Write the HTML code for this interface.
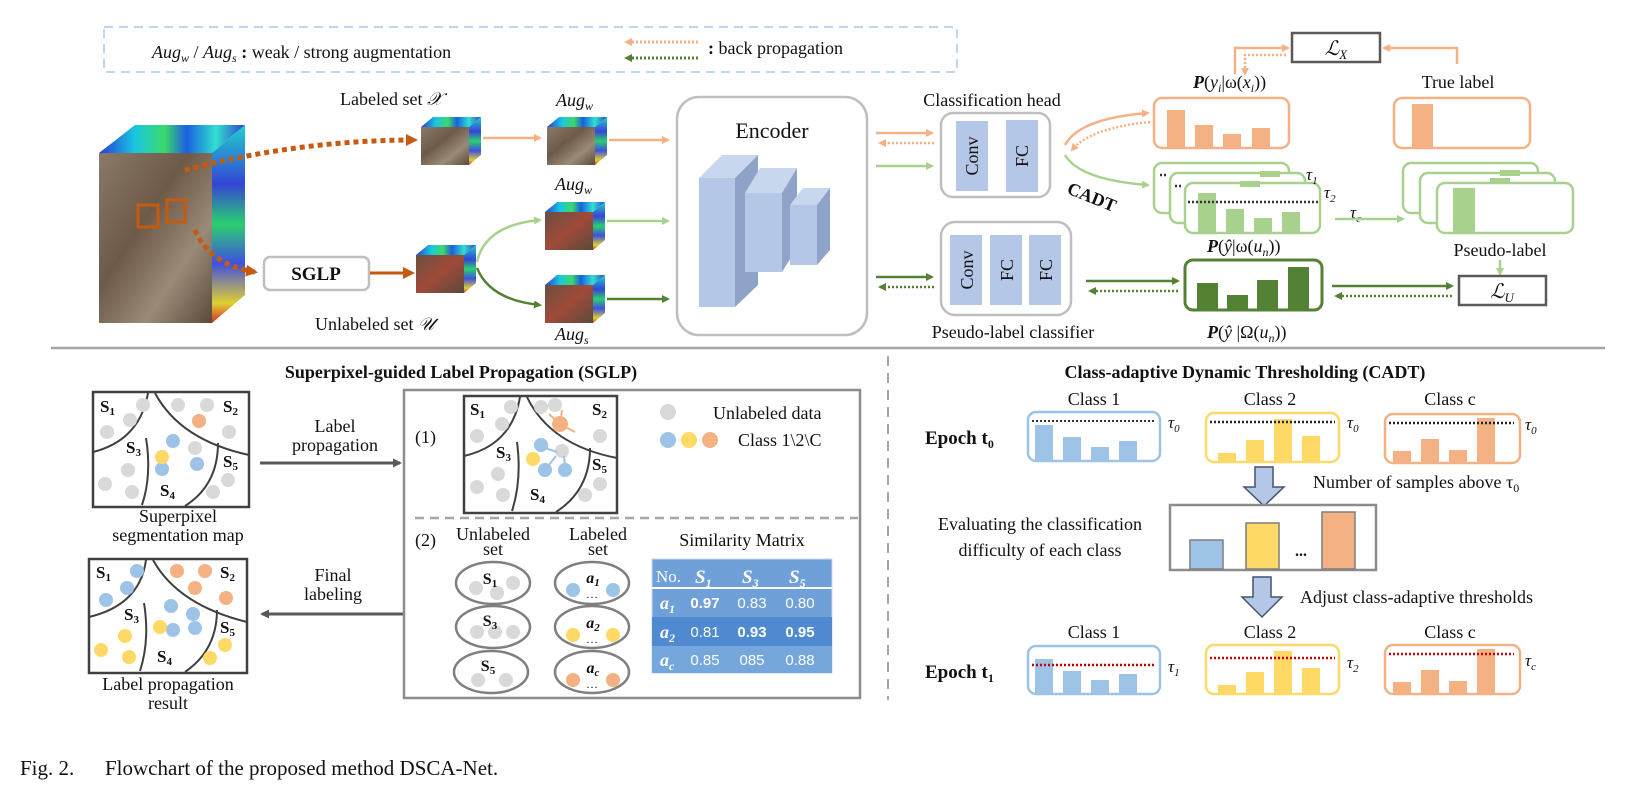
<!DOCTYPE html>
<html><head><meta charset="utf-8"><style>
html,body{margin:0;padding:0;background:#fff}
svg{display:block}
text{font-family:"Liberation Serif",serif;fill:#111}
.s{font-family:"Liberation Sans",sans-serif}
</style></head><body>
<svg width="1638" height="790" viewBox="0 0 1638 790" xmlns="http://www.w3.org/2000/svg">
<defs>
<linearGradient id="rain" x1="0" y1="0" x2="1" y2="0">
<stop offset="0" stop-color="#2a3bd8"/><stop offset="0.25" stop-color="#19c7e0"/><stop offset="0.45" stop-color="#3bd96a"/><stop offset="0.6" stop-color="#1a5fe0"/><stop offset="0.8" stop-color="#30e0d0"/><stop offset="1" stop-color="#3040d0"/></linearGradient>
<linearGradient id="rain2" x1="0" y1="0" x2="0" y2="1">
<stop offset="0" stop-color="#1fd0d0"/><stop offset="0.3" stop-color="#3545d5"/><stop offset="0.5" stop-color="#2ad070"/><stop offset="0.7" stop-color="#4050e0"/><stop offset="0.9" stop-color="#e0d030"/><stop offset="1" stop-color="#d03030"/></linearGradient>
<linearGradient id="img" x1="0" y1="0" x2="1" y2="1">
<stop offset="0" stop-color="#8a7a68"/><stop offset="0.4" stop-color="#6e5a48"/><stop offset="0.7" stop-color="#9a8a78"/><stop offset="1" stop-color="#5a4a3a"/></linearGradient>
<linearGradient id="imgr" x1="0" y1="0" x2="1" y2="1">
<stop offset="0" stop-color="#6a5040"/><stop offset="0.5" stop-color="#a04a3a"/><stop offset="1" stop-color="#5a4a3a"/></linearGradient>
<marker id="ao" markerWidth="8" markerHeight="8" refX="6" refY="4" orient="auto" markerUnits="userSpaceOnUse"><path d="M0,0 L8,4 L0,8z" fill="#f4b183"/></marker>
<marker id="ad" markerWidth="12" markerHeight="12" refX="9" refY="6" orient="auto" markerUnits="userSpaceOnUse"><path d="M0,0 L12,6 L0,12z" fill="#c55a11"/></marker>
<marker id="alg" markerWidth="8" markerHeight="8" refX="6" refY="4" orient="auto" markerUnits="userSpaceOnUse"><path d="M0,0 L8,4 L0,8z" fill="#a9d18e"/></marker>
<marker id="adg" markerWidth="8" markerHeight="8" refX="6" refY="4" orient="auto" markerUnits="userSpaceOnUse"><path d="M0,0 L8,4 L0,8z" fill="#548235"/></marker>
<marker id="ag" markerWidth="9" markerHeight="9" refX="7" refY="4.5" orient="auto" markerUnits="userSpaceOnUse"><path d="M0,0 L9,4.5 L0,9z" fill="#595959"/></marker>
<g id="cube"><polygon points="0,10 12,0 60,0 48,10" fill="url(#rain)"/><rect x="0" y="10" width="48" height="38" fill="url(#img)"/><polygon points="48,10 60,0 60,38 48,48" fill="url(#rain2)"/></g>
<g id="cuber"><polygon points="0,10 12,0 60,0 48,10" fill="url(#rain)"/><rect x="0" y="10" width="48" height="38" fill="url(#imgr)"/><polygon points="48,10 60,0 60,38 48,48" fill="url(#rain2)"/></g>
</defs>

<rect x="104" y="27" width="853" height="45" fill="none" stroke="#bdd7ee" stroke-width="2" stroke-dasharray="9,6"/>
<text x="152" y="58" font-size="18"><tspan font-style="italic">Aug</tspan><tspan font-style="italic" font-size="12" dy="4">w</tspan><tspan dy="-4"> / </tspan><tspan font-style="italic">Aug</tspan><tspan font-style="italic" font-size="12" dy="4">s</tspan><tspan dy="-4" font-weight="bold"> :</tspan><tspan> weak / strong augmentation</tspan></text>
<line x1="698" y1="42" x2="626" y2="42" stroke="#f4b183" stroke-width="3" stroke-dasharray="2,2" marker-end="url(#ao)"/>
<line x1="698" y1="58" x2="626" y2="58" stroke="#548235" stroke-width="3" stroke-dasharray="2,2" marker-end="url(#adg)"/>
<text x="708" y="54" font-size="18"><tspan font-weight="bold">:</tspan> back propagation</text>

<polygon points="99,153 135,125 245,125 212,153" fill="url(#rain)"/>
<polygon points="212,153 245,125 245,295 212,323" fill="url(#rain2)"/>
<rect x="99" y="153" width="113" height="170" fill="url(#img)"/>
<rect x="138" y="205" width="20" height="22" fill="none" stroke="#c55a11" stroke-width="3"/>
<rect x="167" y="200" width="18" height="22" fill="none" stroke="#c55a11" stroke-width="3"/>
<path d="M185,170 Q300,140 415,140" fill="none" stroke="#c55a11" stroke-width="5" stroke-dasharray="5,4" marker-end="url(#ad)"/>
<path d="M195,230 Q210,265 255,272" fill="none" stroke="#c55a11" stroke-width="5" stroke-dasharray="5,4" marker-end="url(#ad)"/>

<text x="340" y="105" font-size="18">Labeled set <tspan font-style="italic">𝒳</tspan></text>
<use href="#cube" x="421" y="117"/>
<line x1="483" y1="138" x2="540" y2="138" stroke="#f4b183" stroke-width="2.5" marker-end="url(#ao)"/>
<text x="556" y="106" font-size="18" font-style="italic">Aug<tspan font-size="12" dy="4">w</tspan></text>
<use href="#cube" x="547" y="117"/>
<line x1="609" y1="140" x2="668" y2="140" stroke="#f4b183" stroke-width="2.5" marker-end="url(#ao)"/>
<text x="555" y="190" font-size="18" font-style="italic">Aug<tspan font-size="12" dy="4">w</tspan></text>
<use href="#cuber" x="545" y="202"/>
<line x1="607" y1="221" x2="668" y2="221" stroke="#a9d18e" stroke-width="2.5" marker-end="url(#alg)"/>
<use href="#cuber" x="545" y="275"/>
<line x1="607" y1="299" x2="668" y2="299" stroke="#548235" stroke-width="2.5" marker-end="url(#adg)"/>
<text x="555" y="340" font-size="18" font-style="italic">Aug<tspan font-size="12" dy="4">s</tspan></text>

<rect x="264" y="257" width="105" height="33" rx="6" fill="#fff" stroke="#bfbfbf" stroke-width="2.5"/>
<text x="316" y="280" font-size="19" font-weight="bold" text-anchor="middle">SGLP</text>
<line x1="370" y1="273" x2="412" y2="273" stroke="#c55a11" stroke-width="3" marker-end="url(#ad)"/>
<use href="#cuber" x="416" y="245"/>
<text x="315" y="330" font-size="18">Unlabeled set <tspan font-style="italic">𝒰</tspan></text>
<path d="M477,262 Q485,225 540,220" fill="none" stroke="#a9d18e" stroke-width="2.5" marker-end="url(#alg)"/>
<path d="M477,268 Q490,300 540,305" fill="none" stroke="#548235" stroke-width="2.5" marker-end="url(#adg)"/>

<rect x="677" y="97" width="190" height="238" rx="22" fill="#fff" stroke="#bfbfbf" stroke-width="2.5"/>
<text x="772" y="138" font-size="22" text-anchor="middle">Encoder</text>
<polygon points="699,178 722,155 758,155 735,178" fill="#c8d6ee"/>
<polygon points="735,178 758,155 758,285 735,307" fill="#8fa3c8"/>
<rect x="699" y="178" width="36" height="129" fill="#b4c7e7"/>
<polygon points="745,193 760,168 797,168 782,193" fill="#c8d6ee"/>
<polygon points="782,193 797,168 797,248 782,272" fill="#8fa3c8"/>
<rect x="745" y="193" width="37" height="79" fill="#b4c7e7"/>
<polygon points="790,205 803,188 830,188 817,205" fill="#c8d6ee"/>
<polygon points="817,205 830,188 830,250 817,265" fill="#8fa3c8"/>
<rect x="790" y="205" width="27" height="60" fill="#b4c7e7"/>

<text x="992" y="106" font-size="18" text-anchor="middle">Classification head</text>
<line x1="876" y1="133" x2="932" y2="133" stroke="#f4b183" stroke-width="2.5" marker-end="url(#ao)"/>
<line x1="934" y1="143" x2="880" y2="143" stroke="#f4b183" stroke-width="2.5" stroke-dasharray="2,2" marker-end="url(#ao)"/>
<line x1="876" y1="166" x2="932" y2="166" stroke="#a9d18e" stroke-width="2.5" marker-end="url(#alg)"/>
<rect x="941" y="113" width="109" height="84" rx="12" fill="#fff" stroke="#bfbfbf" stroke-width="2.5"/>
<rect x="956" y="121" width="32" height="70" fill="#b4c7e7"/>
<rect x="1006" y="120" width="32" height="72" fill="#b4c7e7"/>
<text transform="translate(978,156) rotate(-90)" font-size="18" text-anchor="middle">Conv</text>
<text transform="translate(1028,156) rotate(-90)" font-size="18" text-anchor="middle">FC</text>

<line x1="876" y1="277" x2="932" y2="277" stroke="#548235" stroke-width="2.5" marker-end="url(#adg)"/>
<line x1="934" y1="287" x2="880" y2="287" stroke="#548235" stroke-width="2.5" stroke-dasharray="2,2" marker-end="url(#adg)"/>
<rect x="941" y="222" width="130" height="93" rx="14" fill="#fff" stroke="#bfbfbf" stroke-width="2.5"/>
<rect x="950" y="235" width="32" height="70" fill="#b4c7e7"/>
<rect x="990" y="235" width="32" height="70" fill="#b4c7e7"/>
<rect x="1029" y="235" width="32" height="70" fill="#b4c7e7"/>
<text transform="translate(973,270) rotate(-90)" font-size="18" text-anchor="middle">Conv</text>
<text transform="translate(1013,270) rotate(-90)" font-size="18" text-anchor="middle">FC</text>
<text transform="translate(1052,270) rotate(-90)" font-size="18" text-anchor="middle">FC</text>
<text x="1013" y="338" font-size="18" text-anchor="middle">Pseudo-label classifier</text>
<line x1="1086" y1="281" x2="1178" y2="281" stroke="#548235" stroke-width="2.5" marker-end="url(#adg)"/>
<line x1="1178" y1="291" x2="1090" y2="291" stroke="#548235" stroke-width="2.5" stroke-dasharray="2,2" marker-end="url(#adg)"/>

<path d="M1065,145 Q1080,118 1148,113" fill="none" stroke="#f4b183" stroke-width="2.5" marker-end="url(#ao)"/>
<path d="M1150,122 Q1090,128 1072,150" fill="none" stroke="#f4b183" stroke-width="2.5" stroke-dasharray="2,2" marker-end="url(#ao)"/>
<path d="M1065,155 Q1080,180 1148,185" fill="none" stroke="#a9d18e" stroke-width="2.5" marker-end="url(#alg)"/>
<text transform="translate(1066,193) rotate(22)" font-size="18" font-weight="bold">CADT</text>

<text x="1193" y="88" font-size="18"><tspan font-weight="bold" font-style="italic">P</tspan>(<tspan font-style="italic">y</tspan><tspan font-style="italic" font-size="12" dy="4">i</tspan><tspan dy="-4">|ω(</tspan><tspan font-style="italic">x</tspan><tspan font-style="italic" font-size="12" dy="4">i</tspan><tspan dy="-4">))</tspan></text>
<rect x="1154" y="98" width="135" height="50" rx="8" fill="#fff" stroke="#f4b183" stroke-width="2.5"/>
<rect x="1167" y="110" width="18" height="37" fill="#f4b183"/>
<rect x="1195" y="125" width="18" height="22" fill="#f4b183"/>
<rect x="1223" y="134" width="18" height="13" fill="#f4b183"/>
<rect x="1252" y="128" width="18" height="19" fill="#f4b183"/>
<rect x="1292" y="33" width="88" height="29" fill="#fff" stroke="#595959" stroke-width="2.5"/>
<text x="1336" y="55" font-size="20" font-style="italic" text-anchor="middle">ℒ<tspan font-size="13" dy="4">X</tspan></text>
<path d="M1235,74 L1235,48 L1288,48" fill="none" stroke="#f4b183" stroke-width="2.5" marker-end="url(#ao)"/>
<path d="M1286,55 L1245,55 L1245,74" fill="none" stroke="#f4b183" stroke-width="2.5" stroke-dasharray="2,2" marker-end="url(#ao)"/>
<path d="M1457,64 L1457,48 L1384,48" fill="none" stroke="#f4b183" stroke-width="2.5" marker-end="url(#ao)"/>
<text x="1458" y="88" font-size="18" text-anchor="middle">True label</text>
<rect x="1394" y="98" width="136" height="50" rx="8" fill="#fff" stroke="#f4b183" stroke-width="2.5"/>
<rect x="1412" y="104" width="21" height="43" fill="#f4b183"/>

<g fill="#fff" stroke="#a9d18e" stroke-width="2.5">
<rect x="1154" y="163" width="135" height="50" rx="8"/>
<rect x="1170" y="173" width="135" height="50" rx="8"/>
<rect x="1185" y="183" width="135" height="50" rx="8"/>
</g>
<rect x="1260" y="171" width="20" height="6" fill="#a9d18e"/>
<rect x="1240" y="181" width="20" height="6" fill="#a9d18e"/>
<rect x="1198" y="193" width="18" height="39" fill="#a9d18e"/>
<rect x="1226" y="209" width="18" height="23" fill="#a9d18e"/>
<rect x="1254" y="218" width="18" height="14" fill="#a9d18e"/>
<rect x="1282" y="212" width="18" height="20" fill="#a9d18e"/>
<line x1="1160" y1="175" x2="1168" y2="175" stroke="#333" stroke-width="2.5" stroke-dasharray="2,2"/>
<line x1="1175" y1="186" x2="1183" y2="186" stroke="#333" stroke-width="2.5" stroke-dasharray="2,2"/>
<line x1="1188" y1="202" x2="1318" y2="202" stroke="#333" stroke-width="2.5" stroke-dasharray="2,2"/>
<text x="1306" y="180" font-size="17" font-style="italic">τ<tspan font-size="11" dy="4">1</tspan></text>
<text x="1324" y="198" font-size="17" font-style="italic">τ<tspan font-size="11" dy="4">2</tspan></text>
<text x="1350" y="218" font-size="17" font-style="italic">τ<tspan font-size="11" dy="4">c</tspan></text>
<line x1="1335" y1="219" x2="1403" y2="219" stroke="#a9d18e" stroke-width="2.5" marker-end="url(#alg)"/>
<text x="1207" y="252" font-size="18"><tspan font-weight="bold" font-style="italic">P</tspan>(<tspan font-style="italic">ŷ</tspan>|ω(<tspan font-style="italic">u</tspan><tspan font-style="italic" font-size="12" dy="4">n</tspan><tspan dy="-4">))</tspan></text>

<g fill="#fff" stroke="#a9d18e" stroke-width="2.5">
<rect x="1403" y="163" width="135" height="50" rx="8"/>
<rect x="1420" y="173" width="135" height="50" rx="8"/>
<rect x="1437" y="183" width="136" height="50" rx="8"/>
</g>
<rect x="1500" y="170" width="20" height="6" fill="#a9d18e"/>
<rect x="1490" y="178" width="20" height="6" fill="#a9d18e"/>
<rect x="1453" y="188" width="22" height="44" fill="#a9d18e"/>
<text x="1500" y="256" font-size="18" text-anchor="middle">Pseudo-label</text>
<line x1="1500" y1="260" x2="1500" y2="274" stroke="#a9d18e" stroke-width="2.5" marker-end="url(#alg)"/>

<rect x="1185" y="260" width="137" height="50" rx="8" fill="#fff" stroke="#548235" stroke-width="3"/>
<rect x="1197" y="283" width="21" height="26" fill="#548235"/>
<rect x="1227" y="295" width="21" height="14" fill="#548235"/>
<rect x="1257" y="280" width="21" height="29" fill="#548235"/>
<rect x="1288" y="267" width="21" height="42" fill="#548235"/>
<text x="1207" y="338" font-size="18"><tspan font-weight="bold" font-style="italic">P</tspan>(<tspan font-style="italic">ŷ</tspan> |Ω(<tspan font-style="italic">u</tspan><tspan font-style="italic" font-size="12" dy="4">n</tspan><tspan dy="-4">))</tspan></text>
<line x1="1332" y1="286" x2="1452" y2="286" stroke="#548235" stroke-width="2.5" marker-end="url(#adg)"/>
<line x1="1452" y1="296" x2="1336" y2="296" stroke="#548235" stroke-width="2.5" stroke-dasharray="2,2" marker-end="url(#adg)"/>
<rect x="1459" y="276" width="87" height="29" fill="#fff" stroke="#595959" stroke-width="2.5"/>
<text x="1502" y="298" font-size="20" font-style="italic" text-anchor="middle">ℒ<tspan font-size="13" dy="4">U</tspan></text>

<line x1="51" y1="348" x2="1605" y2="348" stroke="#a6a6a6" stroke-width="2.5"/>
<line x1="888" y1="356" x2="888" y2="700" stroke="#a6a6a6" stroke-width="2" stroke-dasharray="10,7"/>

<text x="461" y="378" font-size="18" font-weight="bold" text-anchor="middle">Superpixel-guided Label Propagation (SGLP)</text>
<rect x="93" y="392" width="156" height="115" fill="#fff" stroke="#404040" stroke-width="2.5"/>
<path d="M148,393 Q140,440 93,452" fill="none" stroke="#404040" stroke-width="2"/>
<path d="M155,393 Q180,440 249,455" fill="none" stroke="#404040" stroke-width="2"/>
<path d="M146,438 Q152,475 142,505" fill="none" stroke="#404040" stroke-width="2"/>
<path d="M218,443 Q218,485 185,506" fill="none" stroke="#404040" stroke-width="2"/>
<g fill="#d9d9d9"><circle cx="143" cy="405" r="7"/><circle cx="130" cy="420" r="7"/><circle cx="107" cy="432" r="7"/><circle cx="178" cy="405" r="7"/><circle cx="207" cy="405" r="7"/><circle cx="229" cy="432" r="7"/><circle cx="195" cy="448" r="7"/><circle cx="128" cy="470" r="7"/><circle cx="105" cy="484" r="7"/><circle cx="132" cy="492" r="7"/><circle cx="228" cy="480" r="7"/><circle cx="213" cy="492" r="7"/></g>
<circle cx="199" cy="421" r="7" fill="#f4b183"/><circle cx="173" cy="441" r="7" fill="#9dc3e6"/><circle cx="162" cy="469" r="7" fill="#9dc3e6"/><circle cx="197" cy="464" r="7" fill="#9dc3e6"/><circle cx="162" cy="457" r="7" fill="#ffd966"/>
<g font-size="17" font-weight="bold"><text x="100" y="412">S<tspan font-size="11" dy="3">1</tspan></text><text x="223" y="412">S<tspan font-size="11" dy="3">2</tspan></text><text x="126" y="453">S<tspan font-size="11" dy="3">3</tspan></text><text x="160" y="496">S<tspan font-size="11" dy="3">4</tspan></text><text x="223" y="467">S<tspan font-size="11" dy="3">5</tspan></text></g>
<text x="178" y="522" font-size="18" text-anchor="middle">Superpixel</text>
<text x="178" y="541" font-size="18" text-anchor="middle">segmentation map</text>

<line x1="260" y1="463" x2="400" y2="463" stroke="#595959" stroke-width="3" marker-end="url(#ag)"/>
<text x="335" y="432" font-size="18" text-anchor="middle">Label</text>
<text x="335" y="451" font-size="18" text-anchor="middle">propagation</text>
<line x1="404" y1="614" x2="262" y2="614" stroke="#595959" stroke-width="3" marker-end="url(#ag)"/>
<text x="333" y="581" font-size="18" text-anchor="middle">Final</text>
<text x="333" y="600" font-size="18" text-anchor="middle">labeling</text>

<rect x="89" y="559" width="158" height="114" fill="#fff" stroke="#404040" stroke-width="2.5"/>
<path d="M146,560 Q140,605 89,617" fill="none" stroke="#404040" stroke-width="2"/>
<path d="M153,560 Q178,605 247,622" fill="none" stroke="#404040" stroke-width="2"/>
<path d="M144,603 Q150,640 140,671" fill="none" stroke="#404040" stroke-width="2"/>
<path d="M217,610 Q217,650 185,672" fill="none" stroke="#404040" stroke-width="2"/>
<g fill="#9dc3e6"><circle cx="137" cy="571" r="7"/><circle cx="127" cy="588" r="7"/><circle cx="106" cy="600" r="7"/><circle cx="171" cy="606" r="7"/><circle cx="193" cy="614" r="7"/><circle cx="173" cy="630" r="7"/><circle cx="195" cy="628" r="7"/></g>
<g fill="#f4b183"><circle cx="177" cy="571" r="7"/><circle cx="205" cy="571" r="7"/><circle cx="195" cy="588" r="7"/><circle cx="226" cy="598" r="7"/></g>
<g fill="#ffd966"><circle cx="160" cy="627" r="7"/><circle cx="125" cy="636" r="7"/><circle cx="101" cy="650" r="7"/><circle cx="129" cy="657" r="7"/><circle cx="225" cy="645" r="7"/><circle cx="210" cy="658" r="7"/></g>
<g font-size="17" font-weight="bold"><text x="96" y="578">S<tspan font-size="11" dy="3">1</tspan></text><text x="220" y="578">S<tspan font-size="11" dy="3">2</tspan></text><text x="124" y="620">S<tspan font-size="11" dy="3">3</tspan></text><text x="157" y="662">S<tspan font-size="11" dy="3">4</tspan></text><text x="220" y="633">S<tspan font-size="11" dy="3">5</tspan></text></g>
<text x="168" y="690" font-size="18" text-anchor="middle">Label propagation</text>
<text x="168" y="709" font-size="18" text-anchor="middle">result</text>

<rect x="404" y="390" width="456" height="308" fill="#fff" stroke="#8c8c8c" stroke-width="2.5"/>
<line x1="415" y1="518" x2="858" y2="518" stroke="#a6a6a6" stroke-width="2.5" stroke-dasharray="9,6"/>
<text x="415" y="443" font-size="18">(1)</text>
<rect x="464" y="396" width="153" height="117" fill="#fff" stroke="#404040" stroke-width="2.5"/>
<path d="M520,397 Q512,445 464,456" fill="none" stroke="#404040" stroke-width="2"/>
<path d="M527,397 Q550,445 617,458" fill="none" stroke="#404040" stroke-width="2"/>
<path d="M517,442 Q522,480 512,511" fill="none" stroke="#404040" stroke-width="2"/>
<path d="M590,448 Q590,490 556,512" fill="none" stroke="#404040" stroke-width="2"/>
<g fill="#d9d9d9"><circle cx="511" cy="407" r="7"/><circle cx="502" cy="424" r="7"/><circle cx="477" cy="436" r="7"/><circle cx="541" cy="407" r="7"/><circle cx="600" cy="436" r="7"/><circle cx="562" cy="451" r="7"/><circle cx="498" cy="474" r="7"/><circle cx="477" cy="487" r="7"/><circle cx="503" cy="495" r="7"/><circle cx="600" cy="484" r="7"/><circle cx="585" cy="495" r="7"/><circle cx="555" cy="405" r="7"/></g>
<circle cx="560" cy="424" r="8" fill="#f4b183"/><circle cx="541" cy="445" r="7" fill="#9dc3e6"/><circle cx="545" cy="470" r="7" fill="#9dc3e6"/><circle cx="565" cy="470" r="7" fill="#9dc3e6"/><circle cx="533" cy="459" r="7" fill="#ffd966"/>
<g stroke="#f4b183" stroke-width="2" fill="none"><line x1="560" y1="424" x2="549" y2="414"/><line x1="560" y1="424" x2="562" y2="410"/><line x1="560" y1="424" x2="575" y2="432"/></g>
<g stroke="#9dc3e6" stroke-width="2" fill="none"><line x1="545" y1="448" x2="557" y2="452"/><line x1="548" y1="466" x2="556" y2="456"/><line x1="565" y1="466" x2="564" y2="456"/></g>
<g font-size="17" font-weight="bold"><text x="470" y="415">S<tspan font-size="11" dy="3">1</tspan></text><text x="592" y="415">S<tspan font-size="11" dy="3">2</tspan></text><text x="496" y="458">S<tspan font-size="11" dy="3">3</tspan></text><text x="530" y="500">S<tspan font-size="11" dy="3">4</tspan></text><text x="592" y="470">S<tspan font-size="11" dy="3">5</tspan></text></g>
<circle cx="668" cy="412" r="8" fill="#d9d9d9"/>
<text x="713" y="419" font-size="18">Unlabeled data</text>
<circle cx="668" cy="440" r="8" fill="#9dc3e6"/><circle cx="689" cy="440" r="8" fill="#ffd966"/><circle cx="710" cy="440" r="8" fill="#f4b183"/>
<text x="738" y="446" font-size="18">Class 1\2\C</text>

<text x="415" y="546" font-size="18">(2)</text>
<text x="493" y="540" font-size="18" text-anchor="middle">Unlabeled</text>
<text x="493" y="555" font-size="18" text-anchor="middle">set</text>
<text x="598" y="540" font-size="18" text-anchor="middle">Labeled</text>
<text x="598" y="555" font-size="18" text-anchor="middle">set</text>
<g fill="#fff" stroke="#7f7f7f" stroke-width="2.5">
<ellipse cx="493" cy="583" rx="37" ry="21"/><ellipse cx="493" cy="627" rx="37" ry="21"/><ellipse cx="491" cy="672" rx="37" ry="21"/>
<ellipse cx="592" cy="583" rx="37" ry="21"/><ellipse cx="592" cy="627" rx="37" ry="21"/><ellipse cx="592" cy="672" rx="37" ry="21"/>
</g>
<g fill="#d9d9d9"><circle cx="476" cy="588" r="7"/><circle cx="497" cy="593" r="7"/><circle cx="513" cy="583" r="7"/><circle cx="477" cy="632" r="7"/><circle cx="495" cy="632" r="7"/><circle cx="513" cy="632" r="7"/><circle cx="478" cy="680" r="7"/><circle cx="506" cy="680" r="7"/></g>
<circle cx="573" cy="590" r="7" fill="#9dc3e6"/><circle cx="613" cy="590" r="7" fill="#9dc3e6"/>
<circle cx="573" cy="635" r="7" fill="#ffd966"/><circle cx="613" cy="635" r="7" fill="#ffd966"/>
<circle cx="573" cy="680" r="7" fill="#f4b183"/><circle cx="613" cy="680" r="7" fill="#f4b183"/>
<g font-size="16" font-weight="bold" text-anchor="middle"><text x="490" y="584">S<tspan font-size="11" dy="3">1</tspan></text><text x="490" y="626">S<tspan font-size="11" dy="3">3</tspan></text><text x="488" y="671">S<tspan font-size="11" dy="3">5</tspan></text></g>
<g font-size="16" font-weight="bold" font-style="italic" text-anchor="middle"><text x="593" y="583">a<tspan font-size="11" dy="3">1</tspan></text><text x="593" y="628">a<tspan font-size="11" dy="3">2</tspan></text><text x="593" y="673">a<tspan font-size="11" dy="3">c</tspan></text></g>
<g font-size="12" text-anchor="middle"><text x="592" y="598">…</text><text x="592" y="643">…</text><text x="592" y="688">…</text></g>

<text x="742" y="546" font-size="18" text-anchor="middle">Similarity Matrix</text>
<rect x="652" y="559" width="180" height="114" fill="#6fa1d8" stroke="#c9d9ef" stroke-width="1"/>
<rect x="652" y="617" width="180" height="29" fill="#4f8ad0"/>
<rect x="652" y="646" width="180" height="27" fill="#75a7dc"/>
<line x1="652" y1="588" x2="832" y2="588" stroke="#fff" stroke-width="2"/>
<text x="656" y="582" font-size="17" style="fill:#fff">No.</text>
<text x="695" y="583" font-size="19" font-weight="bold" font-style="italic" style="fill:#fff">S<tspan font-size="12" dy="4">1</tspan></text>
<text x="742" y="583" font-size="19" font-weight="bold" font-style="italic" style="fill:#fff">S<tspan font-size="12" dy="4">3</tspan></text>
<text x="789" y="583" font-size="19" font-weight="bold" font-style="italic" style="fill:#fff">S<tspan font-size="12" dy="4">5</tspan></text>
<text x="660" y="609" font-size="18" font-weight="bold" font-style="italic" style="fill:#fff">a<tspan font-size="12" dy="4">1</tspan></text>
<text x="660" y="638" font-size="18" font-weight="bold" font-style="italic" style="fill:#fff">a<tspan font-size="12" dy="4">2</tspan></text>
<text x="660" y="666" font-size="18" font-weight="bold" font-style="italic" style="fill:#fff">a<tspan font-size="12" dy="4">c</tspan></text>
<g font-size="15" text-anchor="middle">
<text class="s" x="705" y="608" font-weight="bold" style="fill:#fff">0.97</text><text class="s" x="752" y="608" style="fill:#fff">0.83</text><text class="s" x="800" y="608" style="fill:#fff">0.80</text>
<text class="s" x="705" y="637" style="fill:#fff">0.81</text><text class="s" x="752" y="637" font-weight="bold" style="fill:#fff">0.93</text><text class="s" x="800" y="637" font-weight="bold" style="fill:#fff">0.95</text>
<text class="s" x="705" y="665" style="fill:#fff">0.85</text><text class="s" x="752" y="665" style="fill:#fff">085</text><text class="s" x="800" y="665" style="fill:#fff">0.88</text>
</g>

<text x="1245" y="378" font-size="18" font-weight="bold" text-anchor="middle">Class-adaptive Dynamic Thresholding (CADT)</text>
<text x="925" y="444" font-size="19" font-weight="bold">Epoch t<tspan font-size="12" dy="4">0</tspan></text>
<text x="1094" y="405" font-size="18" text-anchor="middle">Class 1</text>
<text x="1270" y="405" font-size="18" text-anchor="middle">Class 2</text>
<text x="1450" y="405" font-size="18" text-anchor="middle">Class c</text>
<rect x="1028" y="412" width="132" height="49" rx="8" fill="#fff" stroke="#9dc3e6" stroke-width="2.5"/>
<rect x="1035" y="425" width="18" height="35" fill="#9dc3e6"/><rect x="1063" y="437" width="18" height="23" fill="#9dc3e6"/><rect x="1091" y="447" width="18" height="13" fill="#9dc3e6"/><rect x="1119" y="441" width="18" height="19" fill="#9dc3e6"/>
<line x1="1032" y1="421" x2="1156" y2="421" stroke="#333" stroke-width="2" stroke-dasharray="2,2"/>
<text x="1168" y="428" font-size="17" font-style="italic">τ<tspan font-size="11" dy="4">0</tspan></text>
<rect x="1206" y="413" width="133" height="49" rx="8" fill="#fff" stroke="#ffd966" stroke-width="2.5"/>
<rect x="1218" y="453" width="18" height="8" fill="#ffd966"/><rect x="1246" y="440" width="18" height="21" fill="#ffd966"/><rect x="1274" y="419" width="18" height="42" fill="#ffd966"/><rect x="1302" y="436" width="18" height="25" fill="#ffd966"/>
<line x1="1210" y1="422" x2="1335" y2="422" stroke="#222" stroke-width="2.5" stroke-dasharray="2,2"/>
<text x="1347" y="428" font-size="17" font-style="italic">τ<tspan font-size="11" dy="4">0</tspan></text>
<rect x="1385" y="414" width="135" height="49" rx="8" fill="#fff" stroke="#f4b183" stroke-width="2.5"/>
<rect x="1393" y="451" width="18" height="11" fill="#f4b183"/><rect x="1421" y="439" width="18" height="23" fill="#f4b183"/><rect x="1449" y="450" width="18" height="12" fill="#f4b183"/><rect x="1477" y="418" width="18" height="44" fill="#f4b183"/>
<line x1="1389" y1="423" x2="1514" y2="423" stroke="#222" stroke-width="2.5" stroke-dasharray="2,2"/>
<text x="1525" y="430" font-size="17" font-style="italic">τ<tspan font-size="11" dy="4">0</tspan></text>

<polygon points="1255,467 1273,467 1273,487 1284,487 1264,506 1244,487 1255,487" fill="#b4c7e7" stroke="#44546a" stroke-width="1.5"/>
<text x="1313" y="488" font-size="18">Number of samples above τ<tspan font-size="12" dy="4">0</tspan></text>
<text x="1040" y="530" font-size="18" text-anchor="middle">Evaluating the classification</text>
<text x="1040" y="556" font-size="18" text-anchor="middle">difficulty of each class</text>
<rect x="1170" y="505" width="206" height="65" fill="#fff" stroke="#8c8c8c" stroke-width="2.5"/>
<rect x="1190" y="540" width="33" height="29" fill="#9dc3e6" stroke="#7f7f7f" stroke-width="1.5"/>
<rect x="1246" y="523" width="33" height="46" fill="#ffd966" stroke="#7f7f7f" stroke-width="1.5"/>
<text x="1301" y="556" font-size="16" font-weight="bold" text-anchor="middle">...</text>
<rect x="1322" y="512" width="33" height="57" fill="#f4b183" stroke="#7f7f7f" stroke-width="1.5"/>
<polygon points="1253,577 1271,577 1271,597 1282,597 1262,617 1242,597 1253,597" fill="#b4c7e7" stroke="#44546a" stroke-width="1.5"/>
<text x="1300" y="603" font-size="18">Adjust class-adaptive thresholds</text>

<text x="925" y="678" font-size="19" font-weight="bold">Epoch t<tspan font-size="12" dy="4">1</tspan></text>
<text x="1094" y="638" font-size="18" text-anchor="middle">Class 1</text>
<text x="1270" y="638" font-size="18" text-anchor="middle">Class 2</text>
<text x="1450" y="638" font-size="18" text-anchor="middle">Class c</text>
<rect x="1028" y="646" width="132" height="48" rx="8" fill="#fff" stroke="#9dc3e6" stroke-width="2.5"/>
<rect x="1035" y="659" width="18" height="34" fill="#9dc3e6"/><rect x="1063" y="671" width="18" height="22" fill="#9dc3e6"/><rect x="1091" y="680" width="18" height="13" fill="#9dc3e6"/><rect x="1119" y="674" width="18" height="19" fill="#9dc3e6"/>
<line x1="1032" y1="665" x2="1156" y2="665" stroke="#c00000" stroke-width="2.5" stroke-dasharray="2,2"/>
<text x="1168" y="672" font-size="17" font-style="italic">τ<tspan font-size="11" dy="4">1</tspan></text>
<rect x="1206" y="645" width="133" height="49" rx="8" fill="#fff" stroke="#ffd966" stroke-width="2.5"/>
<rect x="1218" y="685" width="18" height="8" fill="#ffd966"/><rect x="1246" y="672" width="18" height="21" fill="#ffd966"/><rect x="1274" y="651" width="18" height="42" fill="#ffd966"/><rect x="1302" y="668" width="18" height="25" fill="#ffd966"/>
<line x1="1210" y1="658" x2="1335" y2="658" stroke="#c00000" stroke-width="2.5" stroke-dasharray="2,2"/>
<text x="1347" y="668" font-size="17" font-style="italic">τ<tspan font-size="11" dy="4">2</tspan></text>
<rect x="1385" y="645" width="135" height="49" rx="8" fill="#fff" stroke="#f4b183" stroke-width="2.5"/>
<rect x="1393" y="682" width="18" height="11" fill="#f4b183"/><rect x="1421" y="670" width="18" height="23" fill="#f4b183"/><rect x="1449" y="681" width="18" height="12" fill="#f4b183"/><rect x="1477" y="649" width="18" height="44" fill="#f4b183"/>
<line x1="1389" y1="654" x2="1514" y2="654" stroke="#c00000" stroke-width="2.5" stroke-dasharray="2,2"/>
<text x="1525" y="666" font-size="17" font-style="italic">τ<tspan font-size="11" dy="4">c</tspan></text>

<text x="20" y="775" font-size="21">Fig. 2.</text>
<text x="105" y="775" font-size="21">Flowchart of the proposed method DSCA-Net.</text>
</svg>
</body></html>
